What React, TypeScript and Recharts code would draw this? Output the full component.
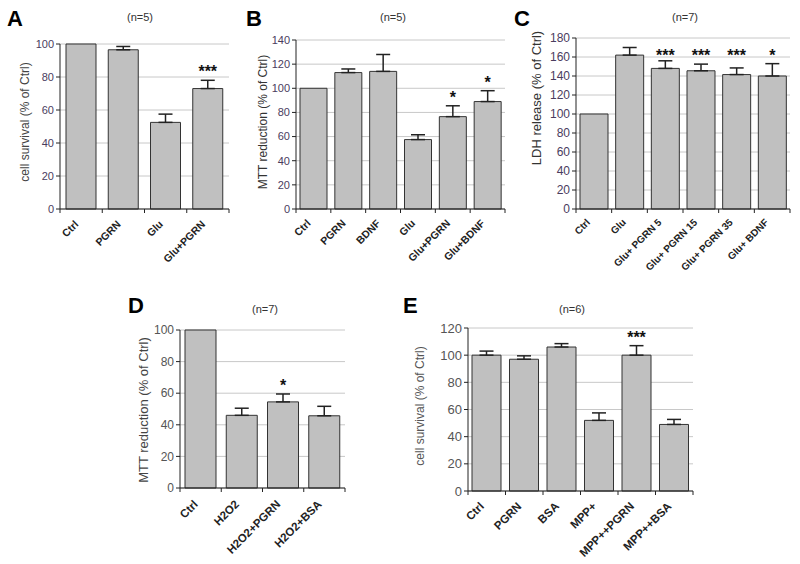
import React from 'react';
import { BarChart, Bar, XAxis, YAxis, CartesianGrid, ErrorBar, LabelList } from 'recharts';

const FONT = '"Liberation Sans", Arial, Helvetica, sans-serif';

// panel A
const aLabels = ['Ctrl', 'PGRN', 'Glu', 'Glu+PGRN'];
const aValues = [100, 96.5, 52.5, 73];
const aErrors = [0, 2, 5, 5];
const aStars = ['', '', '', '***'];
const aTicks = [0, 20, 40, 60, 80, 100];

// panel B
const bLabels = ['Ctrl', 'PGRN', 'BDNF', 'Glu', 'Glu+PGRN', 'Glu+BDNF'];
const bValues = [100, 113, 114, 57.5, 76.5, 89];
const bErrors = [0, 3, 14, 4, 9, 9];
const bStars = ['', '', '', '', '*', '*'];
const bTicks = [0, 20, 40, 60, 80, 100, 120, 140];

// panel C
const cLabels = ['Ctrl', 'Glu', 'Glu+ PGRN 5', 'Glu+ PGRN 15', 'Glu+ PGRN 35', 'Glu+ BDNF'];
const cValues = [100, 162, 148, 145.5, 141.5, 140];
const cErrors = [0, 8, 8, 7, 7, 13];
const cStars = ['', '', '***', '***', '***', '*'];
const cTicks = [0, 20, 40, 60, 80, 100, 120, 140, 160, 180];

// panel D
const dLabels = ['Ctrl', 'H2O2', 'H2O2+PGRN', 'H2O2+BSA'];
const dValues = [100, 46, 54.5, 45.7];
const dErrors = [0, 4.5, 5, 6];
const dStars = ['', '', '*', ''];
const dTicks = [0, 20, 40, 60, 80, 100];

// panel E
const eLabels = ['Ctrl', 'PGRN', 'BSA', 'MPP+', 'MPP++PGRN', 'MPP++BSA'];
const eValues = [100, 97, 106, 52, 100, 49];
const eErrors = [3, 2.5, 2.5, 5.5, 7, 3.7];
const eStars = ['', '', '', '', '***', ''];
const eTicks = [0, 20, 40, 60, 80, 100, 120];

const Panel = ({ labels, values, errors, stars, ticks, box, barSize, tickFont, tickColor, starLevel, xFont, xdx, xdy }: any) => {
  const data = labels.map((name: string, i: number) => ({
    name,
    value: values[i],
    err: errors[i] ? [0, errors[i]] : null,
    star: stars[i],
  }));
  const n = labels.length;
  const band = (box.x1 - box.x0) / n;
  const left = box.x0 - box.yw;
  const top = box.y0 - box.mt;
  const width = box.x1 - left + 10;
  const height = box.mt + (box.y1 - box.y0) + box.xh;
  const max = ticks[ticks.length - 1];

  const renderTick = (p: any) => {
    const { x, y, payload, index } = p;
    const tx = x + xdx;
    const ty = y + xdy;
    return (
      <g>
        <line x1={x - band / 2} y1={y} x2={x - band / 2} y2={y + 4} stroke="#222" />
        {index === n - 1 && <line x1={x + band / 2} y1={y} x2={x + band / 2} y2={y + 4} stroke="#222" />}
        <text
          x={tx}
          y={ty}
          transform={`rotate(-45 ${tx} ${ty})`}
          textAnchor="end"
          fontSize={xFont}
          fontWeight="bold"
          fill="#222"
          fontFamily={FONT}
        >
          {payload.value}
        </text>
      </g>
    );
  };

  const renderStar = (p: any) => {
    const i = p.index;
    if (!stars[i]) return null;
    const ppu = p.height / values[i];
    const base = p.y + p.height;
    const cy = starLevel != null ? base - starLevel * ppu : base - (values[i] + errors[i]) * ppu - 12;
    return (
      <text x={p.x + p.width / 2} y={cy} dy={9} textAnchor="middle" fontSize={16} fontWeight="bold" fill="#111" fontFamily={FONT}>
        {stars[i]}
      </text>
    );
  };

  return (
    <div style={{ position: 'absolute', left, top }}>
      <BarChart width={width} height={height} data={data} margin={{ top: box.mt, right: 10, bottom: 0, left: 0 }}>
        <CartesianGrid vertical={false} stroke="#c8c8c8" />
        <XAxis
          dataKey="name"
          height={box.xh}
          interval={0}
          tickLine={false}
          tickSize={0}
          tickMargin={0}
          stroke="#222"
          tick={renderTick}
        />
        <YAxis
          width={box.yw}
          domain={[0, max]}
          ticks={ticks}
          interval={0}
          tickSize={4}
          tickMargin={2}
          stroke="#222"
          tick={{ fontSize: tickFont, fill: tickColor, fontFamily: FONT }}
        />
        <Bar dataKey="value" fill="#c0c0c0" stroke="#333" barSize={barSize} isAnimationActive={false}>
          <ErrorBar dataKey="err" width={7} stroke="#222" direction="y" isAnimationActive={false} />
          <LabelList dataKey="star" content={renderStar} />
        </Bar>
      </BarChart>
    </div>
  );
};

const panelText = [
  { letter: 'A', lx: 7, ly: 26, n: '(n=5)', nx: 140, ny: 21, yl: 'cell survival (% of Ctrl)', yx: 25, yy: 122, ys: 12, yc: '#444' },
  { letter: 'B', lx: 246, ly: 26, n: '(n=5)', nx: 393, ny: 21, yl: 'MTT reduction (% of Ctrl)', yx: 263, yy: 122, ys: 12, yc: '#333' },
  { letter: 'C', lx: 514, ly: 26, n: '(n=7)', nx: 685, ny: 21, yl: 'LDH release (% of Ctrl)', yx: 536, yy: 98, ys: 13, yc: '#333' },
  { letter: 'D', lx: 128, ly: 313, n: '(n=7)', nx: 265, ny: 313, yl: 'MTT reduction (% of Ctrl)', yx: 143, yy: 410, ys: 13, yc: '#444' },
  { letter: 'E', lx: 403, ly: 313, n: '(n=6)', nx: 572, ny: 313, yl: 'cell survival (% of Ctrl)', yx: 420, yy: 406, ys: 12, yc: '#555' },
];

export default function App() {
  return (
    <div style={{ position: 'absolute', left: 0, top: 0, width: 800, height: 564, background: '#fff', fontFamily: FONT }}>
      <svg width={800} height={564} style={{ position: 'absolute', left: 0, top: 0 }}>
        {panelText.map((t) => (
          <g key={t.letter}>
            <text x={t.lx} y={t.ly} fontSize={22} fontWeight="bold" fill="#000" fontFamily={FONT}>{t.letter}</text>
            <text x={t.nx} y={t.ny} fontSize={11} textAnchor="middle" fill="#333" fontFamily={FONT}>{t.n}</text>
            <text
              x={t.yx}
              y={t.yy}
              transform={`rotate(-90 ${t.yx} ${t.yy})`}
              textAnchor="middle"
              dominantBaseline="central"
              fontSize={t.ys}
              fill={t.yc}
              fontFamily={FONT}
            >
              {t.yl}
            </text>
          </g>
        ))}
      </svg>
      <Panel labels={aLabels} values={aValues} errors={aErrors} stars={aStars} ticks={aTicks}
        box={{ x0: 60, x1: 229, y0: 44, y1: 209, yw: 50, mt: 20, xh: 75 }} barSize={30} tickFont={11} tickColor="#4a3c5e"
        xFont={10.5} xdx={-2} xdy={16} />
      <Panel labels={bLabels} values={bValues} errors={bErrors} stars={bStars} ticks={bTicks}
        box={{ x0: 296, x1: 505, y0: 40, y1: 209, yw: 30, mt: 20, xh: 75 }} barSize={27} tickFont={11} tickColor="#4a3c5e"
        xFont={10.5} xdx={-2} xdy={15} />
      <Panel labels={cLabels} values={cValues} errors={cErrors} stars={cStars} ticks={cTicks} starLevel={165}
        box={{ x0: 576, x1: 790, y0: 38, y1: 209, yw: 30, mt: 20, xh: 80 }} barSize={28} tickFont={12} tickColor="#4a3c5e"
        xFont={10} xdx={-3} xdy={14} />
      <Panel labels={dLabels} values={dValues} errors={dErrors} stars={dStars} ticks={dTicks}
        box={{ x0: 180, x1: 345, y0: 330, y1: 488, yw: 30, mt: 20, xh: 76 }} barSize={31} tickFont={12} tickColor="#555"
        xFont={11.5} xdx={-2} xdy={17} />
      <Panel labels={eLabels} values={eValues} errors={eErrors} stars={eStars} ticks={eTicks}
        box={{ x0: 468, x1: 693, y0: 328, y1: 491, yw: 38, mt: 20, xh: 73 }} barSize={29} tickFont={13} tickColor="#555"
        xFont={11.5} xdx={-2} xdy={16} />
    </div>
  );
}
